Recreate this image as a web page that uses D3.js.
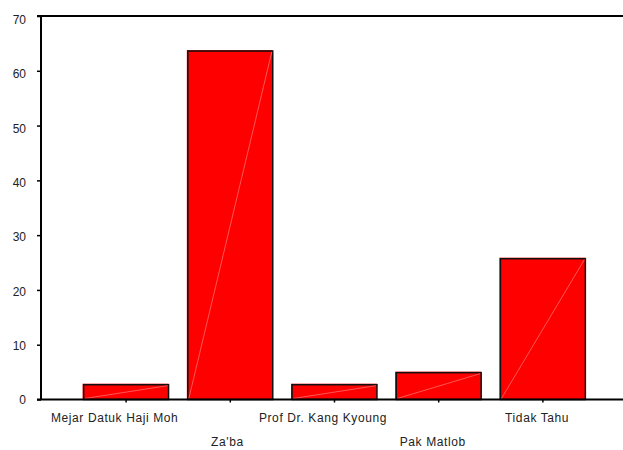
<!DOCTYPE html>
<html>
<head>
<meta charset="utf-8">
<script src="https://cdn.jsdelivr.net/npm/d3@7"></script>
<style>
	body { margin: 0; background: #fff; }
	svg text { font-family: "Liberation Sans", Arial, sans-serif; font-size: 12px; fill: #222; }
</style>
</head>
<body>
<div id="chart"></div>
<script>
// chart data
var categories = ["Mejar Datuk Haji Moh", "Za'ba", "Prof Dr. Kang Kyoung", "Pak Matlob", "Tidak Tahu"];
var values = [2.7, 63.6, 2.7, 4.9, 25.7];
var yTicks = [0, 10, 20, 30, 40, 50, 60, 70];

var width = 623, height = 450;
var margin = { left: 41, top: 16, bottom: 399.5 };

var svg = d3.select("#chart").append("svg")
	.attr("width", width)
	.attr("height", height);

var y = d3.scaleLinear().domain([0, 70]).range([margin.bottom, margin.top]);

var x = d3.scaleBand()
	.domain(categories)
	.range([74, 595])
	.paddingInner(0.185)
	.paddingOuter(0.0925);

// bars
var bars = svg.append("g").attr("class", "bars");

bars.selectAll("rect.glow")
	.data(values)
	.enter().append("rect")
	.attr("class", "glow")
	.attr("x", function(d, i) { return x(categories[i]) - 1; })
	.attr("y", function(d) { return y(d) - 1; })
	.attr("width", x.bandwidth() + 1)
	.attr("height", function(d) { return y(0) - y(d) + 1; })
	.style("fill", "#ff0000");

bars.selectAll("rect.bar")
	.data(values)
	.enter().append("rect")
	.attr("class", "bar")
	.attr("x", function(d, i) { return x(categories[i]); })
	.attr("y", function(d) { return y(d); })
	.attr("width", x.bandwidth())
	.attr("height", function(d) { return y(0) - y(d); })
	.style("fill", "#ff0000")
	.style("stroke", "#111")
	.style("stroke-width", 1.5);

// faint diagonal seam in each bar
bars.selectAll("line.seam")
	.data(values)
	.enter().append("line")
	.attr("class", "seam")
	.attr("x1", function(d, i) { return x(categories[i]) + 1; })
	.attr("y1", y(0) - 1)
	.attr("x2", function(d, i) { return x(categories[i]) + x.bandwidth() - 1; })
	.attr("y2", function(d) { return y(d) + 1; })
	.style("stroke", "#ff7a7a")
	.style("stroke-width", 0.7);

// y axis
var yAxis = d3.axisLeft(y).tickValues(yTicks).tickSize(4).tickPadding(11);
var gy = svg.append("g")
	.attr("transform", "translate(" + margin.left + ",0)")
	.call(yAxis);
gy.select(".domain").remove();
gy.selectAll(".tick line").style("stroke", "#000").style("stroke-width", 1.5);
gy.selectAll(".tick text").style("font-size", "12px")
	.attr("dy", function(d) { return (4.3 + 3 * d / 70) + "px"; });

// x axis ticks + staggered labels
var xAxis = d3.axisBottom(x).tickSize(3).tickFormat("");
var gx = svg.append("g")
	.attr("transform", "translate(0," + margin.bottom + ")")
	.call(xAxis);
gx.select(".domain").remove();
gx.selectAll(".tick line").style("stroke", "#000").style("stroke-width", 1.5);

// labels sit a little left of their tick, like the original renderer
svg.append("g").selectAll("text")
	.data(categories)
	.enter().append("text")
	.attr("y", function(d, i) { return i % 2 ? 446 : 422; })
	.attr("text-anchor", "middle")
	.style("letter-spacing", "0.6px")
	.text(function(d) { return d; })
	.attr("x", function(d) {
		var w = this.getComputedTextLength();
		return x(d) + x.bandwidth() / 2 - 0.09 * w;
	});

// frame lines: left, top, bottom
var frame = svg.append("g").style("stroke", "#000").style("stroke-width", 2);
frame.append("line")
	.attr("x1", margin.left).attr("x2", margin.left)
	.attr("y1", margin.top).attr("y2", margin.bottom);
frame.append("line")
	.attr("x1", margin.left - 4).attr("x2", width)
	.attr("y1", margin.top).attr("y2", margin.top);
frame.append("line")
	.attr("x1", margin.left - 4).attr("x2", width)
	.attr("y1", margin.bottom).attr("y2", margin.bottom);
</script>
</body>
</html>
